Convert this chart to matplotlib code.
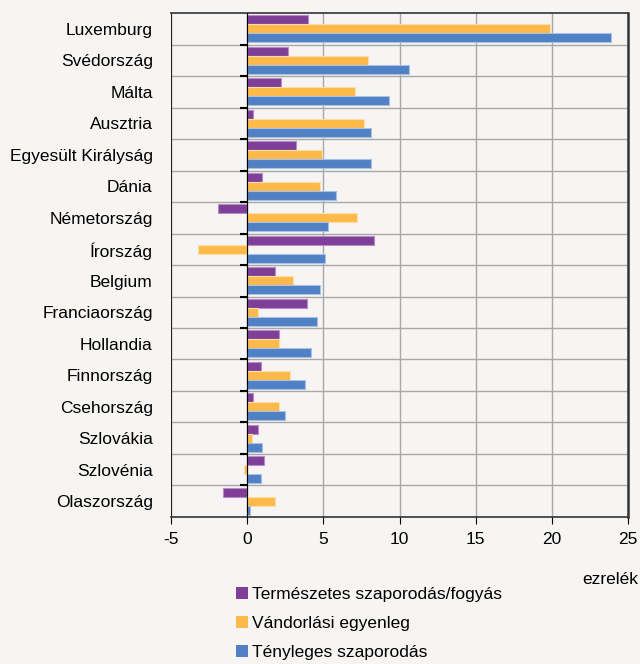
import numpy as np
import matplotlib.pyplot as plt
from matplotlib.patches import Patch

plt.rcParams['font.family'] = ['Liberation Sans', 'DejaVu Sans']
plt.rcParams['axes.unicode_minus'] = False

countries = ['Luxemburg', 'Svédország', 'Málta', 'Ausztria', 'Egyesült Királyság',
             'Dánia', 'Németország', 'Írország', 'Belgium', 'Franciaország',
             'Hollandia', 'Finnország', 'Csehország', 'Szlovákia', 'Szlovénia',
             'Olaszország']
termeszetes = [4.0, 2.7, 2.2, 0.4, 3.2, 1.0, -1.9, 8.3, 1.8, 3.9, 2.1, 0.9, 0.4, 0.7, 1.1, -1.6]
vandorlasi = [19.9, 7.9, 7.1, 7.7, 4.9, 4.8, 7.2, -3.2, 3.0, 0.7, 2.1, 2.8, 2.1, 0.3, -0.2, 1.8]
tenyleges = [23.9, 10.6, 9.3, 8.1, 8.1, 5.8, 5.3, 5.1, 4.8, 4.6, 4.2, 3.8, 2.5, 1.0, 0.9, 0.2]

series = [termeszetes, vandorlasi, tenyleges]
labels = ['Természetes szaporodás/fogyás', 'Vándorlási egyenleg', 'Tényleges szaporodás']
colors = ['#7f3f98', '#fdb94a', '#4f81c4']
edges = ['#b58cc4', '#fde0a8', '#a9c0e3']

bg = '#f6f5f3'
fig = plt.figure(figsize=(6.4, 6.64), dpi=100, facecolor=bg)
ax = fig.add_axes([0.2672, 0.2214, 0.7141, 0.759])
ax.set_facecolor(bg)

n = len(countries)
y = np.arange(n)
h = 0.29
for i, (vals, c, ec) in enumerate(zip(series, colors, edges)):
    ax.barh(y + (i - 1) * h, vals, height=h, color=c, edgecolor=ec, linewidth=0.8, zorder=3)

# y axis sits at zero, labels pushed out to the frame
ax.spines['left'].set_position(('data', 0))
ax.spines['left'].set_zorder(4)

ax.set_xlim(-5, 25)
ax.set_ylim(n - 0.5, -0.5)
ax.set_xticks(np.arange(-5, 26, 5))
ax.set_yticks(y)
ax.set_yticklabels(countries)
ax.set_yticks(np.arange(n - 1) + 0.5, minor=True)
ax.tick_params(axis='x', labelsize=12.5, length=5, direction='out', pad=6)
ax.tick_params(axis='y', which='major', length=0, pad=68, labelsize=12.5)
ax.tick_params(axis='y', which='minor', length=5, width=1.5, direction='out')
ax.axvline(-5, color='#222222', lw=1.5, zorder=4)

for s in ['top', 'right', 'bottom']:
    ax.spines[s].set_color('#333333')
    ax.spines[s].set_linewidth(1.2)
ax.spines['right'].set_linewidth(1.8)

ax.grid(axis='x', which='major', color='#a8a8a8', lw=1, zorder=1)
ax.grid(axis='y', which='minor', color='#a8a8a8', lw=1, zorder=1)

fig.text(0.997, 0.128, 'ezrelék', ha='right', va='center', fontsize=12.5)

handles = [Patch(facecolor=c, edgecolor='none') for c in colors]
fig.legend(handles, labels, loc='upper left', bbox_to_anchor=(0.355, 0.129),
           frameon=False, fontsize=12.5, handlelength=0.7, handleheight=0.7,
           handletextpad=0.2, labelspacing=0.8, borderpad=0)

fig.savefig('out.png', dpi=100, facecolor=bg)
